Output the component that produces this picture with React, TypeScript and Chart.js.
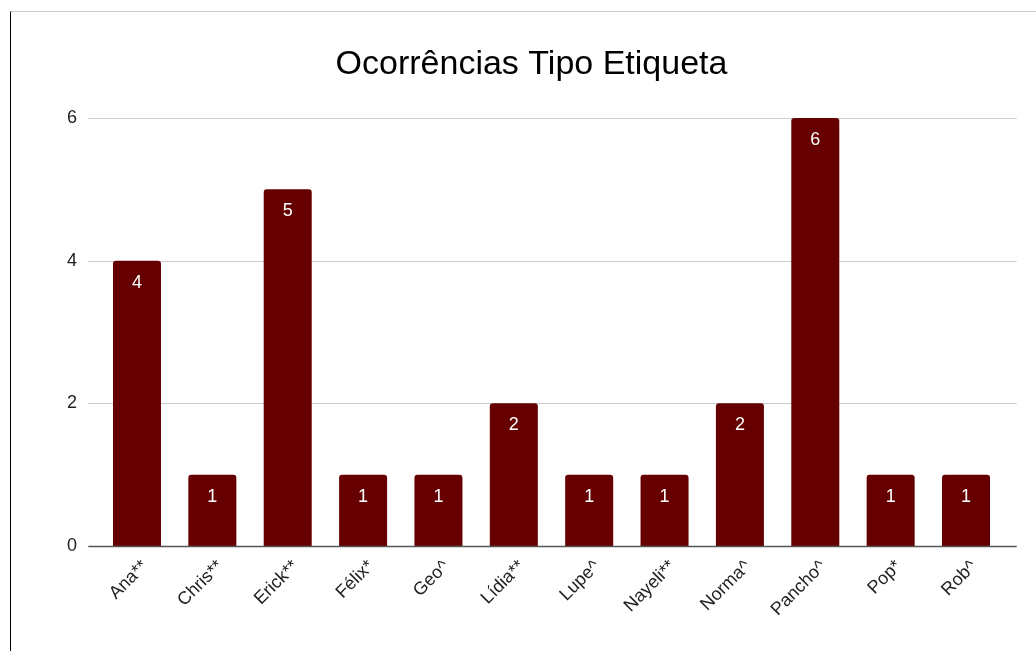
import React, { useEffect, useRef } from "react";
import { Chart, registerables } from "chart.js";

Chart.register(...registerables);

const title = "Ocorrências Tipo Etiqueta";
const categories = ["Ana**", "Chris**", "Erick**", "Félix*", "Geo^", "Lídia**", "Lupe^", "Nayeli**", "Norma^", "Pancho^", "Pop*", "Rob^"];
const occurrences = [4, 1, 5, 1, 1, 2, 1, 1, 2, 6, 1, 1];
const yMin = 0;
const yMax = 6;
const yStep = 2;

const FONT = "'Liberation Sans', Arial, sans-serif";

// Horizontal gridlines run a little past the plot area on both sides.
const gridPlugin = {
  id: "wideGrid",
  beforeDatasetsDraw(chart: any) {
    const { ctx, chartArea, scales } = chart;
    const y = scales.y;
    ctx.save();
    ctx.strokeStyle = "#cccccc";
    ctx.lineWidth = 1;
    for (let v = yMin + yStep; v <= yMax; v += yStep) {
      const py = Math.round(y.getPixelForValue(v)) + 0.5;
      ctx.beginPath();
      ctx.moveTo(chartArea.left - 11, py);
      ctx.lineTo(chartArea.right + 13, py);
      ctx.stroke();
    }
    ctx.restore();
  },
  afterDatasetsDraw(chart: any) {
    const { ctx, chartArea, scales } = chart;
    const py = Math.round(scales.y.getPixelForValue(yMin)) + 0.5;
    ctx.save();
    ctx.strokeStyle = "#555555";
    ctx.lineWidth = 1.5;
    ctx.beginPath();
    ctx.moveTo(chartArea.left - 11, py);
    ctx.lineTo(chartArea.right + 13, py);
    ctx.stroke();

    // value labels inside the top of each bar
    const meta = chart.getDatasetMeta(0);
    ctx.fillStyle = "#ffffff";
    ctx.font = `18px ${FONT}`;
    ctx.textAlign = "center";
    ctx.textBaseline = "middle";
    meta.data.forEach((bar: any, i: number) => {
      ctx.fillText(String(occurrences[i]), bar.x, bar.y + 22);
    });
    ctx.restore();
  },
};

export default function App() {
  const canvasRef = useRef<HTMLCanvasElement | null>(null);

  useEffect(() => {
    if (!canvasRef.current) return;
    const chart = new Chart(canvasRef.current, {
      type: "bar",
      data: {
        labels: categories,
        datasets: [
          {
            data: occurrences,
            backgroundColor: "#660000",
            borderRadius: { topLeft: 3, topRight: 3, bottomLeft: 0, bottomRight: 0 },
            borderSkipped: false,
            barPercentage: 0.637,
            categoryPercentage: 1,
          },
        ],
      },
      options: {
        animation: false,
        responsive: false,
        maintainAspectRatio: false,
        layout: { padding: { left: 48.3, right: 32.3, top: 0, bottom: 0 } },
        plugins: {
          legend: { display: false },
          tooltip: { enabled: false },
          title: {
            display: true,
            text: title,
            color: "#000000",
            font: { family: FONT, size: 34, weight: "normal", lineHeight: 1.2 },
            padding: { top: 32.6, bottom: 32.6 },
          },
        },
        scales: {
          x: {
            grid: { display: false, drawTicks: false },
            border: { display: false },
            ticks: {
              autoSkip: false,
              minRotation: 45,
              maxRotation: 45,
              color: "#222222",
              padding: 10,
              labelOffset: 8,
              font: { family: FONT, size: 18 },
            },
            afterFit(scale: any) {
              scale.height = 105;
            },
          },
          y: {
            min: yMin,
            max: yMax,
            grid: { display: false, drawTicks: false },
            border: { display: false },
            ticks: {
              stepSize: yStep,
              color: "#222222",
              padding: 22.3,
              font: { family: FONT, size: 18 },
            },
            afterFit(scale: any) {
              scale.width = 40;
            },
          },
        },
      },
      plugins: [gridPlugin],
    });
    return () => chart.destroy();
  }, []);

  return (
    <div
      style={{
        position: "absolute",
        left: 10,
        top: 11,
        width: 1026,
        height: 640,
        borderLeft: "1px solid #000000",
        borderTop: "1px solid #cccccc",
        boxSizing: "border-box",
        background: "#ffffff",
      }}
    >
      <canvas ref={canvasRef} width={1025} height={639} style={{ display: "block" }} />
    </div>
  );
}
